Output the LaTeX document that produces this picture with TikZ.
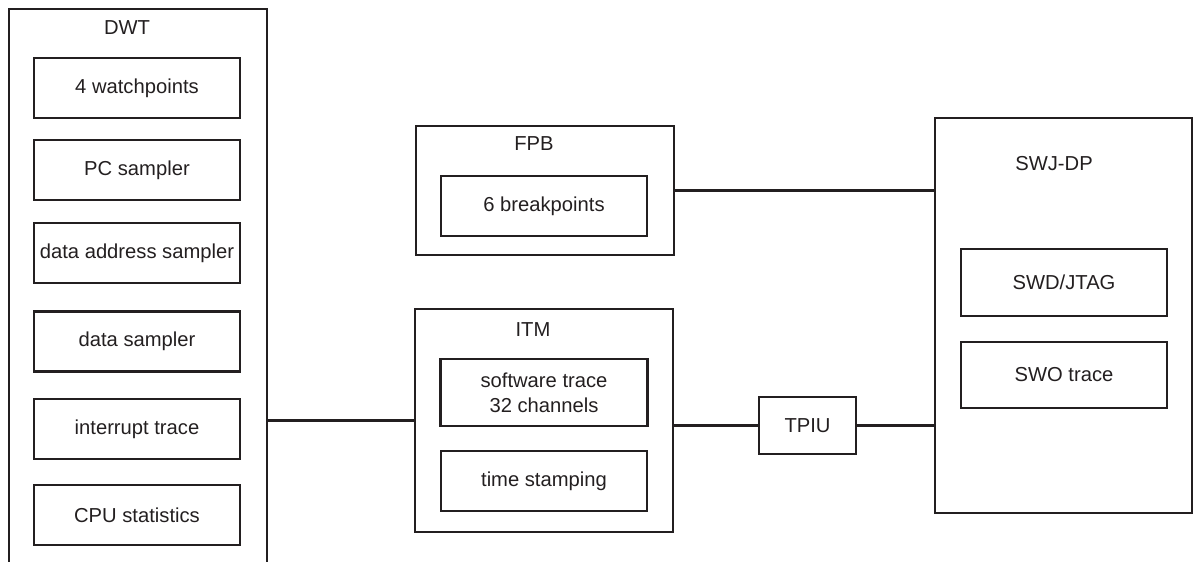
\documentclass[tikz,border=0pt]{standalone}
\usepackage{fontspec}
\setmainfont{Liberation Sans}
\definecolor{ink}{HTML}{231F20}
\begin{document}
\begin{tikzpicture}[x=0.5pt,y=-0.5pt,line width=1.2pt,
  every node/.style={font=\fontsize{10.1}{12.5}\selectfont,text=ink},
  box/.style={draw=ink,rectangle,inner sep=0pt,align=center},
  ttl/.style={inner sep=0pt},
  wire/.style={draw=ink}]
\useasboundingbox (0,0) rectangle (1194,562);
\clip (0,0) rectangle (1194,562);
% DWT
\node[box,minimum width=129pt,minimum height=305.5pt] (dwt) at (138,314.5) {};
\node[ttl] (dwtt) at (127,28) {DWT};
\node[box,minimum width=103pt,minimum height=30pt] (d1) at (137,88) {4 watchpoints};
\node[box,minimum width=103pt,minimum height=30pt] (d2) at (137,170) {PC sampler};
\node[box,minimum width=103pt,minimum height=30pt] (d3) at (137,253) {data address sampler};
\node[box,minimum width=103pt,minimum height=30pt] (d4) at (137,341.5) {data sampler};
\node[box,minimum width=103pt,minimum height=30pt] (d5) at (137,429) {interrupt trace};
\node[box,minimum width=103pt,minimum height=30pt] (d6) at (137,515) {CPU statistics};
% FPB
\node[box,minimum width=129pt,minimum height=64.5pt] (fpb) at (545,190.5) {};
\node[ttl] (fpbt) at (534,144) {FPB};
\node[box,minimum width=103pt,minimum height=30pt] (f1) at (544,206) {6 breakpoints};
% ITM
\node[box,minimum width=129pt,minimum height=111.5pt] (itm) at (544,420.5) {};
\node[ttl] (itmt) at (533,330) {ITM};
\node[box,minimum width=103.5pt,minimum height=33.5pt] (i1) at (544,392.5) {software trace\\32 channels};
\node[box,minimum width=103pt,minimum height=30pt] (i2) at (544,481) {time stamping};
% TPIU
\node[box,minimum width=48.5pt,minimum height=28.5pt] (tpiu) at (807.5,425.5) {TPIU};
% SWJ-DP
\node[box,minimum width=128.5pt,minimum height=197.5pt] (swj) at (1063.5,315.5) {};
\node[ttl] (swjt) at (1054,163.5) {SWJ-DP};
\node[box,minimum width=103pt,minimum height=33.5pt] (s1) at (1064,282.5) {SWD/JTAG};
\node[box,minimum width=103pt,minimum height=33pt] (s2) at (1064,375) {SWO trace};
% connectors
\draw[wire] (itm.west) -- (itm.west -| dwt.east);
\draw[wire] (fpb.east) -- (fpb.east -| swj.west);
\draw[wire] (tpiu.west) -- (tpiu.west -| itm.east);
\draw[wire] (tpiu.east) -- (tpiu.east -| swj.west);
\end{tikzpicture}
\end{document}
